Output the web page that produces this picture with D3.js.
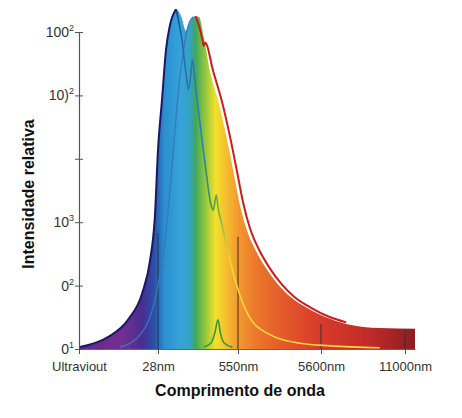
<!DOCTYPE html>
<html>
<head>
<meta charset="utf-8">
<script src="https://cdn.jsdelivr.net/npm/d3@7"></script>
<style>
  body { margin: 0; background: #fff; }
  text { font-family: "Liberation Sans", Arial, sans-serif; }
</style>
</head>
<body>
<div id="chart"></div>
<script>
// tick labels
const xTickLabels = ["Ultraviout", "28nm", "550nm", "5600nm", "11000nm"];
const yTickBase = ["0", "0", "10", "", "10)", "100"];
const yTickSup = ["1", "2", "3", "", "2", "2"];

// spectrum envelope [position, level]
const envelope = [
  [0.01, 0.03], [0.37, 0.19], [0.62, 0.46], [0.80, 0.88], [0.90, 1.40],
  [0.96, 2.08], [1.00, 3.14], [1.05, 3.93], [1.10, 4.72], [1.15, 5.11],
  [1.225, 5.36], [1.29, 5.25], [1.35, 5.02], [1.40, 5.16], [1.46, 5.25],
  [1.51, 5.24], [1.58, 4.87], [1.65, 4.38], [1.755, 3.90], [1.855, 3.35],
  [1.935, 2.85], [2.015, 2.32], [2.105, 1.88], [2.215, 1.55], [2.335, 1.28],
  [2.475, 1.03], [2.635, 0.82], [2.83, 0.65], [3.06, 0.50], [3.31, 0.39],
  [3.70, 0.33], [4.12, 0.32]
];

// left outline up to first peak
const leftEdge = envelope.slice(0, 11);

// first peak curve going down through the bumps
const innerCurve = [
  [1.225, 5.36], [1.30, 4.87], [1.35, 4.35], [1.38, 4.09], [1.42, 4.45],
  [1.43, 4.57], [1.47, 4.13], [1.53, 3.50], [1.61, 2.71], [1.65, 2.35],
  [1.69, 2.19], [1.73, 2.43], [1.75, 2.24], [1.80, 1.96], [1.90, 1.40],
  [1.99, 0.98], [2.11, 0.57], [2.35, 0.25], [2.75, 0.09], [3.11, 0.05],
  [3.70, 0.02]
];

// second peak, rising curve
const secondCurve = [
  [0.52, 0.03], [0.77, 0.22], [0.96, 0.77], [1.09, 1.71], [1.18, 2.96],
  [1.26, 4.13], [1.32, 4.72], [1.38, 5.11], [1.44, 5.24]
];

// long-wave outline
const redCurve = [
  [1.47, 5.25], [1.53, 5.02], [1.56, 4.85], [1.57, 4.78], [1.59, 4.83],
  [1.69, 4.38], [1.80, 3.90], [1.90, 3.35], [1.98, 2.85], [2.06, 2.32],
  [2.15, 1.88], [2.26, 1.55], [2.38, 1.28], [2.52, 1.03], [2.68, 0.82],
  [2.88, 0.65], [3.11, 0.50], [3.30, 0.42]
];

// small green emission line
const greenPeak = [
  [1.57, 0.03], [1.66, 0.09], [1.71, 0.25], [1.75, 0.46], [1.78, 0.25],
  [1.83, 0.09], [1.93, 0.03]
];

// vertical marker lines at ticks [tick, top level]
const markers = [[1, 1.83], [2, 1.77], [3, 0.39], [4, 0.30]];

const spectrumStops = [
  [0.01, "#5e2b86"], [0.55, "#732f93"], [0.80, "#4a2d90"], [0.95, "#2a4fa8"],
  [1.08, "#2b8fd0"], [1.28, "#35a3d9"], [1.40, "#35a2c4"], [1.47, "#3ea85a"],
  [1.58, "#8dc440"], [1.72, "#f2e12a"], [1.86, "#f6bb30"], [2.00, "#f29a2e"],
  [2.20, "#ec7a2c"], [2.45, "#e5622a"], [2.95, "#da3c2a"], [3.58, "#c02a28"],
  [4.12, "#8c1e22"]
];

const width = 462, height = 418;

const x = d3.scaleLinear()
  .domain([0, 1, 2, 3, 4, 4.12])
  .range([79, 158, 238, 321, 405, 415]);

const y = d3.scaleLinear()
  .domain([0, 5])
  .range([349, 32]);

const svg = d3.select("#chart").append("svg")
  .attr("width", width)
  .attr("height", height);

const defs = svg.append("defs");
const grad = defs.append("linearGradient")
  .attr("id", "spectrum")
  .attr("gradientUnits", "userSpaceOnUse")
  .attr("x1", x(0)).attr("x2", x(4.12))
  .attr("y1", 0).attr("y2", 0);
const x0 = x(0), xw = x(4.12) - x(0);
grad.selectAll("stop").data(spectrumStops).join("stop")
  .attr("offset", d => (x(d[0]) - x0) / xw)
  .attr("stop-color", d => d[1]);

const innerGrad = defs.append("linearGradient")
  .attr("id", "innerStroke")
  .attr("gradientUnits", "userSpaceOnUse")
  .attr("x1", x(1.2)).attr("x2", x(2.0))
  .attr("y1", 0).attr("y2", 0);
const innerStops = [[1.2, "#1e2a78"], [1.32, "#2a6cb2"], [1.55, "#2f7fb0"], [1.68, "#3c9a48"], [1.80, "#8cc040"], [1.9, "#f4d62a"], [2.0, "#f6d83a"]];
innerGrad.selectAll("stop").data(innerStops).join("stop")
  .attr("offset", d => (x(d[0]) - x(1.2)) / (x(2.0) - x(1.2)))
  .attr("stop-color", d => d[1]);

const curve = d3.curveMonotoneX;
const line = d3.line().x(d => x(d[0])).y(d => y(d[1])).curve(curve);
const area = d3.area().x(d => x(d[0])).y0(y(0)).y1(d => y(d[1])).curve(curve);

// spectrum fill
svg.append("path")
  .datum(envelope)
  .attr("d", area)
  .attr("fill", "url(#spectrum)");

// marker lines
svg.selectAll(".marker").data(markers).join("line")
  .attr("class", "marker")
  .attr("x1", d => x(d[0])).attr("x2", d => x(d[0]))
  .attr("y1", d => y(d[1])).attr("y2", y(0))
  .attr("stroke", "#333")
  .attr("stroke-width", 1);

svg.append("path").datum(secondCurve)
  .attr("d", line)
  .attr("fill", "none")
  .attr("stroke", "#3479bd")
  .attr("stroke-width", 1.3);

svg.append("path").datum(innerCurve)
  .attr("d", line)
  .attr("fill", "none")
  .attr("stroke", "url(#innerStroke)")
  .attr("stroke-width", 1.6);

svg.append("path").datum(greenPeak)
  .attr("d", line)
  .attr("fill", "none")
  .attr("stroke", "#2e9a3e")
  .attr("stroke-width", 1.6);

svg.append("path").datum(redCurve)
  .attr("d", line)
  .attr("fill", "none")
  .attr("stroke", "#cc1c1c")
  .attr("stroke-width", 2);

svg.append("path").datum(leftEdge)
  .attr("d", line)
  .attr("fill", "none")
  .attr("stroke", "#1c1862")
  .attr("stroke-width", 2);

// x axis
const xAxis = svg.append("g")
  .attr("transform", `translate(0,${y(0)})`)
  .call(d3.axisBottom(x)
    .tickValues([0, 1, 2, 3, 4])
    .tickFormat(i => xTickLabels[i])
    .tickSizeInner(5)
    .tickSizeOuter(0)
    .tickPadding(8));
xAxis.select(".domain").attr("stroke", "#666").attr("stroke-width", 1.2);
xAxis.selectAll(".tick line").attr("stroke", "#555");
xAxis.selectAll(".tick text")
  .attr("font-size", 13)
  .attr("fill", "#333")
  .attr("font-family", "Liberation Sans, Arial, sans-serif");

// y axis
const yAxis = svg.append("g")
  .attr("transform", `translate(${x(0)},0)`)
  .call(d3.axisLeft(y)
    .tickValues([0, 1, 2, 3, 4, 5])
    .tickFormat("")
    .tickSizeOuter(0));
yAxis.select(".domain").attr("stroke", "#555").attr("stroke-width", 1.2);
yAxis.selectAll(".tick line")
  .attr("x1", -4).attr("x2", 4)
  .attr("stroke", "#555");

const yLabels = svg.append("g")
  .selectAll("text").data(d3.range(6)).join("text")
  .attr("x", x(0) - 5)
  .attr("y", d => y(d) + 5)
  .attr("text-anchor", "end")
  .attr("font-size", 14)
  .attr("fill", "#333");
yLabels.append("tspan").text(d => yTickBase[d]);
yLabels.append("tspan")
  .attr("dy", -6)
  .attr("font-size", 9)
  .text(d => yTickSup[d]);

// titles
svg.append("text")
  .attr("x", 240).attr("y", 396)
  .attr("text-anchor", "middle")
  .attr("font-size", 16)
  .attr("font-weight", "bold")
  .attr("fill", "#111")
  .text("Comprimento de onda");

svg.append("text")
  .attr("transform", "translate(34,194) rotate(-90)")
  .attr("text-anchor", "middle")
  .attr("font-size", 16)
  .attr("font-weight", "bold")
  .attr("fill", "#111")
  .text("Intensidade relativa");
</script>
</body>
</html>
